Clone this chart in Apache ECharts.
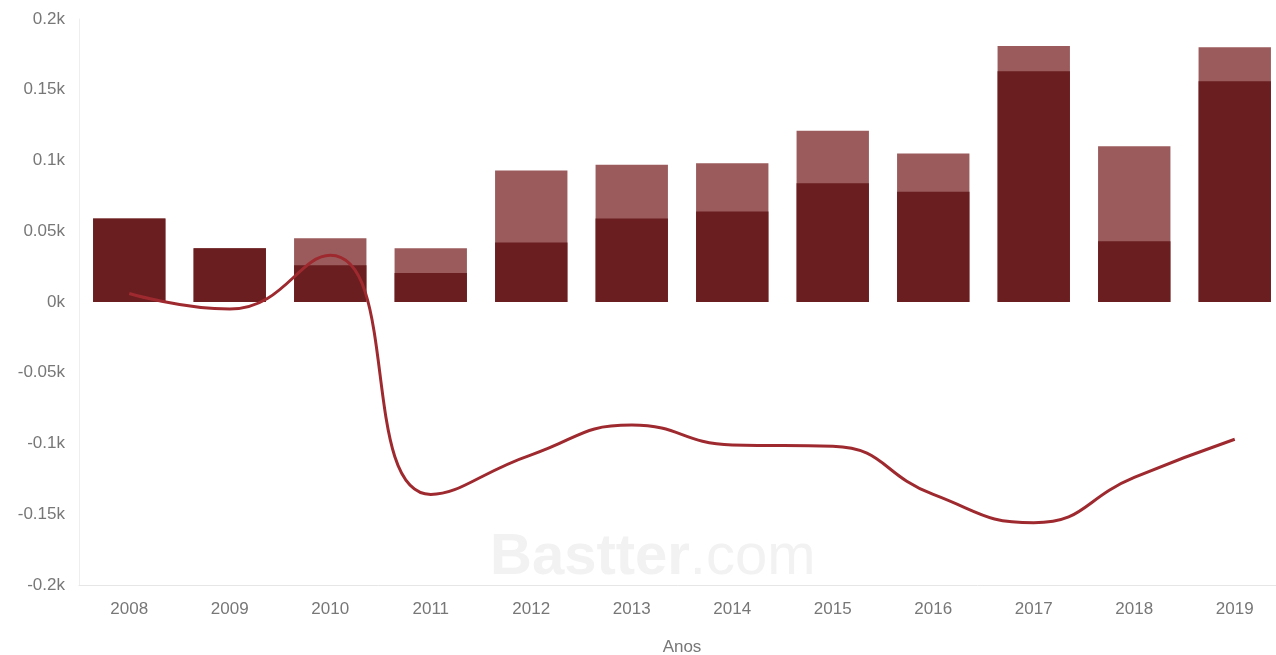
<!DOCTYPE html>
<html>
<head>
<meta charset="utf-8">
<script src="https://cdn.jsdelivr.net/npm/echarts@6/dist/echarts.min.js"></script>
<style>
html,body{margin:0;padding:0;background:#fff;}
#chart{width:1276px;height:655px;}
</style>
</head>
<body>
<div id="chart"></div>
<script>
const categories = ['2008','2009','2010','2011','2012','2013','2014','2015','2016','2017','2018','2019'];
const totalValues = [59, 38, 45, 38, 93, 97, 98, 121, 105, 181, 110, 180];
const darkValues = [59, 38, 26, 20.5, 42, 59, 64, 84, 78, 163, 43, 156];
const lineValues = [6, -5, 33, -136, -108, -87, -101, -102, -136, -156, -124, -97];
const axisName = 'Anos';
const watermarkBold = 'Bastter';
const watermarkRest = '.com';

const chart = echarts.init(document.getElementById('chart'));
chart.setOption({
  animation: false,
  backgroundColor: '#ffffff',
  textStyle: { fontFamily: 'Liberation Sans, Arial, sans-serif' },
  graphic: [{
    type: 'text',
    left: 490,
    top: 529,
    z: -1,
    style: {
      text: '{b|' + watermarkBold + '}{r|' + watermarkRest + '}',
      rich: {
        b: { fontSize: 58, fontWeight: 'bold', fill: '#f2f2f2', fontFamily: 'Liberation Sans, Arial, sans-serif' },
        r: { fontSize: 58, fill: '#f2f2f2', fontFamily: 'Liberation Sans, Arial, sans-serif' }
      }
    }
  }],
  grid: { left: 79, right: -9, top: 19, bottom: 70, outerBoundsMode: 'none', containLabel: false },
  xAxis: {
    type: 'category',
    data: categories,
    name: axisName,
    nameLocation: 'middle',
    nameGap: 54,
    nameTextStyle: { color: '#777', fontSize: 17 },
    axisLine: { onZero: false, lineStyle: { color: '#e6e6e6' } },
    axisTick: { show: false },
    axisLabel: { color: '#777', fontSize: 17, margin: 16 }
  },
  yAxis: {
    type: 'value',
    min: -200,
    max: 200,
    interval: 50,
    axisLine: { show: true, lineStyle: { color: '#eeeeee' } },
    axisTick: { show: false },
    splitLine: { show: false },
    axisLabel: {
      color: '#777',
      fontSize: 17,
      margin: 14,
      formatter: v => (v / 1000) + 'k'
    }
  },
  series: [
    {
      type: 'bar',
      data: totalValues,
      barGap: '-100%',
      barCategoryGap: '28%',
      itemStyle: { color: '#9b5b5c' },
      z: 2
    },
    {
      type: 'bar',
      data: darkValues,
      barGap: '-100%',
      barCategoryGap: '28%',
      itemStyle: { color: '#6a1e1f' },
      z: 3
    },
    {
      type: 'line',
      data: lineValues,
      smooth: true,
      showSymbol: false,
      symbol: 'none',
      lineStyle: { color: '#9e2a2f', width: 3 },
      z: 5
    }
  ]
});
</script>
</body>
</html>
